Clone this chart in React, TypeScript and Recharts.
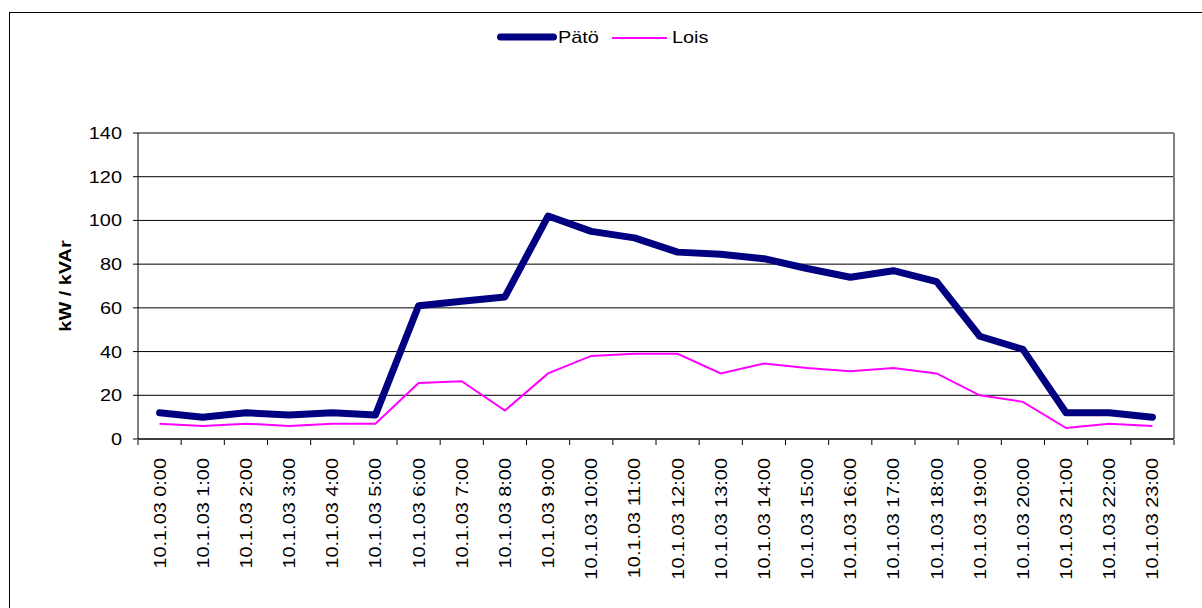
import { LineChart, Line, XAxis, YAxis, CartesianGrid, Legend, ReferenceLine } from "recharts";

const hours = ["0:00", "1:00", "2:00", "3:00", "4:00", "5:00", "6:00", "7:00", "8:00", "9:00", "10:00", "11:00", "12:00", "13:00", "14:00", "15:00", "16:00", "17:00", "18:00", "19:00", "20:00", "21:00", "22:00", "23:00"];
const categories = hours.map((h) => "10.1.03 " + h);
const patoValues = [12, 10, 12, 11, 12, 11, 61, 63, 65, 102, 95, 92, 85.5, 84.5, 82.5, 78, 74, 77, 72, 47, 41, 12, 12, 10];
const loisValues = [7, 6, 7, 6, 7, 7, 25.6, 26.4, 13, 30, 38, 39, 39, 30, 34.5, 32.5, 31, 32.5, 30, 20, 17, 5, 7, 6];
const yTicks = [0, 20, 40, 60, 80, 100, 120, 140];

const data = categories.map((label, i) => ({ idx: i, label, pato: patoValues[i], lois: loisValues[i] }));

// labels at category centres, tick marks on the boundaries (excel style)
const xTicks: number[] = [];
categories.forEach((_, i) => {
  xTicks.push(i - 0.5);
  xTicks.push(i);
});
xTicks.push(categories.length - 0.5);

const FONT = "'Liberation Sans', Arial, sans-serif";
const SX = 1.17;

function XTick(props: any) {
  const { x, y, payload } = props;
  const v = payload.value;
  if (!Number.isInteger(v)) {
    return <line x1={x} y1={y - 5} x2={x} y2={y} stroke="#000" strokeWidth={1} />;
  }
  return (
    <text
      transform={`translate(${x},${y + 13}) rotate(-90) scale(${SX},1)`}
      textAnchor="end"
      dy="0.35em"
      fontSize={17}
      fontFamily={FONT}
      fill="#000"
    >
      {categories[v]}
    </text>
  );
}

function YTick(props: any) {
  const { x, y, payload } = props;
  return (
    <text transform={`translate(${x},${y}) scale(${SX},1)`} textAnchor="end" dy="0.35em" fontSize={17} fontFamily={FONT} fill="#000">
      {payload.value}
    </text>
  );
}

function YLabel(props: any) {
  const vb = props.viewBox;
  const cx = vb.x + 65;
  const cy = vb.y + vb.height / 2;
  return (
    <text
      transform={`translate(${cx},${cy}) rotate(-90) scale(${SX},1)`}
      textAnchor="middle"
      dy="0.35em"
      fontSize={17}
      fontWeight="bold"
      fontFamily={FONT}
      fill="#000"
    >
      kW / kVAr
    </text>
  );
}

function LegendBox() {
  return (
    <svg width={240} height={36} style={{ display: "block" }}>
      <line x1={20.5} y1={17} x2={73.5} y2={17} stroke="#000080" strokeWidth={7} strokeLinecap="round" />
      <text transform={`translate(78,23) scale(${SX},1)`} fontSize={17} fontFamily={FONT} fill="#000">
        Pätö
      </text>
      <line x1={132} y1={18} x2={187} y2={18} stroke="#ff00ff" strokeWidth={2} />
      <text transform={`translate(192,23) scale(${SX},1)`} fontSize={17} fontFamily={FONT} fill="#000">
        Lois
      </text>
    </svg>
  );
}

export default function App() {
  return (
    <div style={{ position: "absolute", left: 0, top: 0, width: 1202, height: 608, overflow: "hidden", background: "#fff" }}>
      <div style={{ position: "absolute", left: 9, top: 12, width: 1300, height: 700, border: "1px solid #000" }} />
      <div style={{ position: "absolute", left: 0, top: 0 }}>
        <LineChart width={1202} height={608} data={data} margin={{ top: 133, right: 28, bottom: 0, left: 0 }}>
          <CartesianGrid vertical={false} stroke="#000" strokeWidth={1} />
          <XAxis
            dataKey="idx"
            type="number"
            domain={[-0.5, 23.5]}
            ticks={xTicks}
            interval={0}
            height={169}
            tickLine={false}
            tickMargin={0}
            tick={<XTick />}
            axisLine={{ stroke: "#000" }}
          />
          <YAxis
            domain={[0, 140]}
            ticks={yTicks}
            width={138}
            tickSize={5}
            tickMargin={11}
            tick={<YTick />}
            tickLine={{ stroke: "#000" }}
            axisLine={{ stroke: "#000" }}
            label={{ content: <YLabel /> } as any}
          />
          <ReferenceLine y={140} stroke="#808080" strokeWidth={2} ifOverflow="visible" />
          <ReferenceLine x={23.5} stroke="#808080" strokeWidth={2} ifOverflow="visible" />
          <Legend
            layout="horizontal"
            verticalAlign="middle"
            align="center"
            content={<LegendBox />}
            wrapperStyle={{ top: 20, left: 480, width: 240, height: 36 }}
          />
          <Line
            type="linear"
            dataKey="pato"
            name="Pätö"
            stroke="#000080"
            strokeWidth={7}
            strokeLinecap="round"
            strokeLinejoin="round"
            dot={false}
            activeDot={false}
            isAnimationActive={false}
          />
          <Line
            type="linear"
            dataKey="lois"
            name="Lois"
            stroke="#ff00ff"
            strokeWidth={2}
            dot={false}
            activeDot={false}
            isAnimationActive={false}
          />
        </LineChart>
      </div>
    </div>
  );
}
